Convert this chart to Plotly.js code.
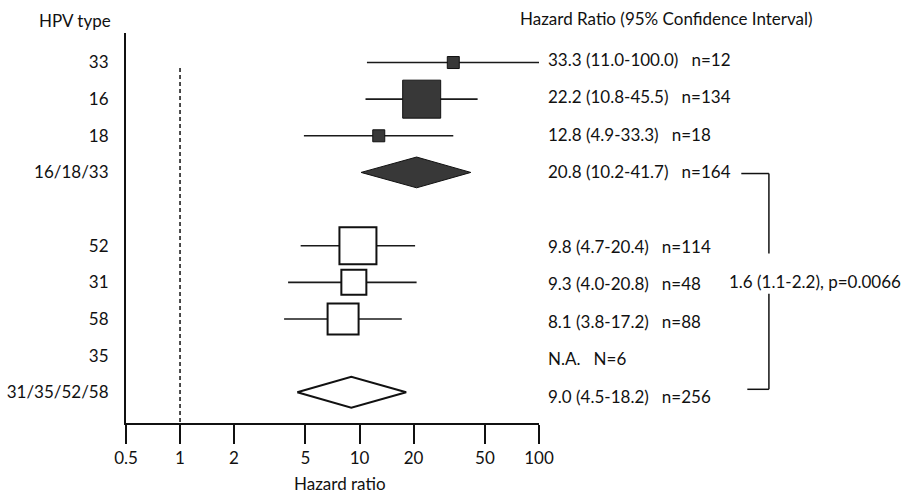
<!DOCTYPE html>
<html>
<head>
<meta charset="utf-8">
<script src="https://cdn.plot.ly/plotly-3.0.1.min.js"></script>
<style>html,body{margin:0;padding:0;background:#fff;}#chart{width:903px;height:495px;}</style>
</head>
<body>
<div id="chart"></div>
<script>
// ---- data ----
const hpvTypes = ['33', '16', '18', '16/18/33', '', '52', '31', '58', '35', '31/35/52/58'];
const hazardRatio = [33.3, 22.2, 12.8, 20.8, null, 9.8, 9.3, 8.1, null, 9.0];
const ciLow = [11.0, 10.8, 4.9, 10.2, null, 4.7, 4.0, 3.8, null, 4.5];
const ciHigh = [100.0, 45.5, 33.3, 41.7, null, 20.4, 20.8, 17.2, null, 18.2];
const nCases = [12, 134, 18, 164, null, 114, 48, 88, 6, 256];
const rowKind = ['type', 'type', 'type', 'pooled', 'gap', 'type', 'type', 'type', 'na', 'pooled'];
const rowGroup = [1, 1, 1, 1, 0, 2, 2, 2, 2, 2];
const xTickVals = [0.5, 1, 2, 5, 10, 20, 50, 100];
const xTickText = ['0.5', '1', '2', '5', '10', '20', '50', '100'];
const comparisonText = '1.6 (1.1-2.2), p=0.0066';
const leftHeader = 'HPV type';
const rightHeader = 'Hazard Ratio (95% Confidence Interval)';
const xTitle = 'Hazard ratio';
const refValue = 1;

// ---- styles ----
const FONT = 'Lato, "Open Sans", sans-serif';
const INK = '#111111';
const darkFill = '#383838';
const squareSize = [12, 38, 12, null, null, 37, 25, 31, null, null];
const diamondHalf = 0.42;
const GAP = '\u00A0\u00A0 ';

const fmt = v => v.toFixed(1);
const labelFor = i => {
  if (rowKind[i] === 'na') return 'N.A.' + GAP + 'N=' + nCases[i];
  if (hazardRatio[i] === null) return '';
  return fmt(hazardRatio[i]) + ' (' + fmt(ciLow[i]) + '-' + fmt(ciHigh[i]) + ')' + GAP + 'n=' + nCases[i];
};

const traces = [];

// reference line at HR = 1
traces.push({
  x: [refValue, refValue], y: [0.15, 9.84], mode: 'lines', type: 'scatter',
  line: {color: INK, width: 1.5, dash: '4px,3px'}, hoverinfo: 'skip', showlegend: false
});

// CI whiskers for individual types
const cx = [], cy = [];
hpvTypes.forEach((t, i) => {
  if (rowKind[i] === 'type') { cx.push(ciLow[i], ciHigh[i], null); cy.push(i, i, null); }
});
traces.push({x: cx, y: cy, mode: 'lines', type: 'scatter', line: {color: '#1a1a1a', width: 1.6},
  hoverinfo: 'skip', showlegend: false, cliponaxis: false});

// squares
const sx = [], sy = [], ss = [], sc = [], sw = [];
hpvTypes.forEach((t, i) => {
  if (rowKind[i] === 'type') {
    sx.push(hazardRatio[i]); sy.push(i); ss.push(squareSize[i]);
    sc.push(rowGroup[i] === 1 ? darkFill : '#ffffff');
    sw.push(rowGroup[i] === 1 ? 1 : 2);
  }
});
traces.push({x: sx, y: sy, mode: 'markers', type: 'scatter',
  marker: {symbol: 'square', size: ss, color: sc, opacity: 1, line: {color: INK, width: sw}},
  hoverinfo: 'skip', showlegend: false, cliponaxis: false});

// pooled diamonds
hpvTypes.forEach((t, i) => {
  if (rowKind[i] === 'pooled') {
    traces.push({
      x: [ciLow[i], hazardRatio[i], ciHigh[i], hazardRatio[i], ciLow[i]],
      y: [i, i - diamondHalf, i, i + diamondHalf, i],
      mode: 'lines', type: 'scatter', fill: 'toself',
      fillcolor: rowGroup[i] === 1 ? darkFill : '#ffffff',
      line: {color: INK, width: rowGroup[i] === 1 ? 1 : 2},
      hoverinfo: 'skip', showlegend: false
    });
  }
});

const annotations = [];
hpvTypes.forEach((t, i) => {
  const txt = labelFor(i);
  if (txt) annotations.push({xref: 'paper', yref: 'y', x: 1.018, y: i, yshift: 3.2 - 0.8 * i,
    xanchor: 'left', yanchor: 'middle',
    text: txt, showarrow: false, font: {family: FONT, size: 17, color: INK}});
});
annotations.push({xref: 'paper', yref: 'paper', x: -0.031, y: 1.032, xanchor: 'right', yanchor: 'middle',
  text: leftHeader, showarrow: false, font: {family: FONT, size: 17, color: INK}});
annotations.push({xref: 'paper', yref: 'paper', x: 0.950, y: 1.036, xanchor: 'left', yanchor: 'middle',
  text: rightHeader, showarrow: false, font: {family: FONT, size: 17, color: INK}});
annotations.push({xref: 'paper', yref: 'paper', x: 0.519, y: -0.155, xanchor: 'center', yanchor: 'middle',
  text: xTitle, showarrow: false, font: {family: FONT, size: 17, color: INK}});

// comparison bracket between the two pooled rows
const topRow = rowKind.indexOf('pooled');
const botRow = rowKind.lastIndexOf('pooled');
const midRow = (topRow + botRow) / 2;
annotations.push({xref: 'paper', yref: 'y', x: 1.6686, y: midRow - 0.03, xanchor: 'center', yanchor: 'middle',
  text: comparisonText, showarrow: false, font: {family: FONT, size: 17, color: INK}});
const bx = 1.5567, bl = {color: INK, width: 1.5};
const shapes = [
  {type: 'line', xref: 'paper', yref: 'y', x0: 1.4898, x1: bx, y0: topRow + 0.03, y1: topRow + 0.03, line: bl},
  {type: 'line', xref: 'paper', yref: 'y', x0: bx, x1: bx, y0: topRow + 0.03, y1: midRow - 0.79, line: bl},
  {type: 'line', xref: 'paper', yref: 'y', x0: bx, x1: bx, y0: midRow + 0.31, y1: botRow - 0.08, line: bl},
  {type: 'line', xref: 'paper', yref: 'y', x0: 1.5044, x1: bx, y0: botRow - 0.08, y1: botRow - 0.08, line: bl}
];

const layout = {
  width: 903, height: 495,
  margin: {l: 126, r: 364, t: 33, b: 72, pad: 0},
  paper_bgcolor: '#ffffff', plot_bgcolor: '#ffffff',
  showlegend: false,
  font: {family: FONT, size: 17, color: INK},
  xaxis: {
    type: 'log', range: [Math.log10(0.5), 2],
    tickvals: xTickVals, ticktext: xTickText,
    ticks: 'outside', ticklen: 19, tickwidth: 2, tickcolor: INK,
    showline: true, linewidth: 2, linecolor: INK,
    showgrid: false, zeroline: false,
    tickfont: {family: FONT, size: 17, color: INK},
    fixedrange: true
  },
  yaxis: {
    range: [9.84, -0.806],
    tickvals: hpvTypes.map((t, i) => i), ticktext: hpvTypes,
    ticks: '', showline: true, linewidth: 2, linecolor: INK,
    showgrid: false, zeroline: false, ticklabelstandoff: 12,
    tickfont: {family: FONT, size: 17, color: INK},
    fixedrange: true
  },
  annotations: annotations,
  shapes: shapes
};

Plotly.newPlot('chart', traces, layout, {staticPlot: true, displayModeBar: false});
</script>
</body>
</html>
